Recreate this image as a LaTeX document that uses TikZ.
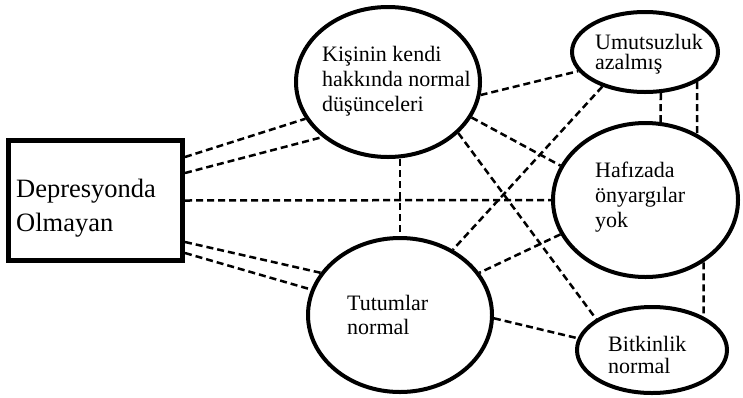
\documentclass[tikz,border=0pt]{standalone}
\usepackage{fontspec}
\setmainfont{Liberation Serif}
\usetikzlibrary{shapes.geometric,calc}
\begin{document}
\begin{tikzpicture}[x=1pt,y=-1pt,
 ell/.style={draw, ellipse, line width=4pt, inner sep=0pt},
 boxst/.style={draw, rectangle, line width=5pt, inner sep=0pt},
 conn/.style={line width=2.5pt, dash pattern=on 7pt off 4pt},
 etxt/.style={align=left, inner sep=0pt, anchor=west}]
\useasboundingbox (0,0) rectangle (743,397);
% nodes
\node[boxst, minimum width=174pt, minimum height=120pt] (box) at (95.5,200.5) {};
\node[etxt, font=\fontsize{26.5}{34}\selectfont] (boxt) at (16,208.5) {Depresyonda\\Olmayan};
\node[ell, minimum width=184pt, minimum height=150pt] (kis) at (388,82) {};
\node[etxt, font=\fontsize{22}{25}\selectfont] (kist) at (322,81) {Kişinin kendi\\hakkında normal\\düşünceleri};
\node[ell, minimum width=146pt, minimum height=80pt] (umu) at (645,52) {};
\node[etxt, font=\fontsize{22}{20}\selectfont] (umut) at (595,54) {Umutsuzluk\\azalmış};
\node[ell, minimum width=185pt, minimum height=154pt] (haf) at (645.5,200) {};
\node[etxt, font=\fontsize{22}{25}\selectfont] (haft) at (595,197) {Hafızada\\önyargılar\\yok};
\node[ell, minimum width=184pt, minimum height=154pt] (tut) at (400,315) {};
\node[etxt, font=\fontsize{22}{24}\selectfont] (tutt) at (347,315) {Tutumlar\\normal};
\node[ell, minimum width=150pt, minimum height=86pt] (bit) at (652,350) {};
\node[etxt, font=\fontsize{22}{22}\selectfont] (bitt) at (608,355) {Bitkinlik\\normal};
% connectors
\draw[conn] ([yshift=43.5pt]box.east) -- (kis.204);
\draw[conn] ([yshift=27.5pt]box.east) -- (kis.220);
\draw[conn] (box.east) -- (haf.west);
\draw[conn] ([yshift=-41.5pt]box.east) -- (tut.152);
\draw[conn] ([yshift=-52.5pt]box.east) -- (tut.164);
\draw[conn] (kis.352) -- (umu.196);
\draw[conn] (kis.south -| tut.north) -- (tut.north);
\draw[conn] (kis.337) -- (haf.158);
\draw[conn] (kis.324) -- (bit.151);
\draw[conn] (umu.219) -- (tut.51);
\draw[conn] (umu.291) -- (haf.79);
\draw[conn] (umu.330) -- (haf.52);
\draw[conn] (haf.202) -- (tut.28);
\draw[conn] (haf.313) -- (bit.33);
\draw[conn] (tut.358) -- (bit.171);
\end{tikzpicture}
\end{document}
